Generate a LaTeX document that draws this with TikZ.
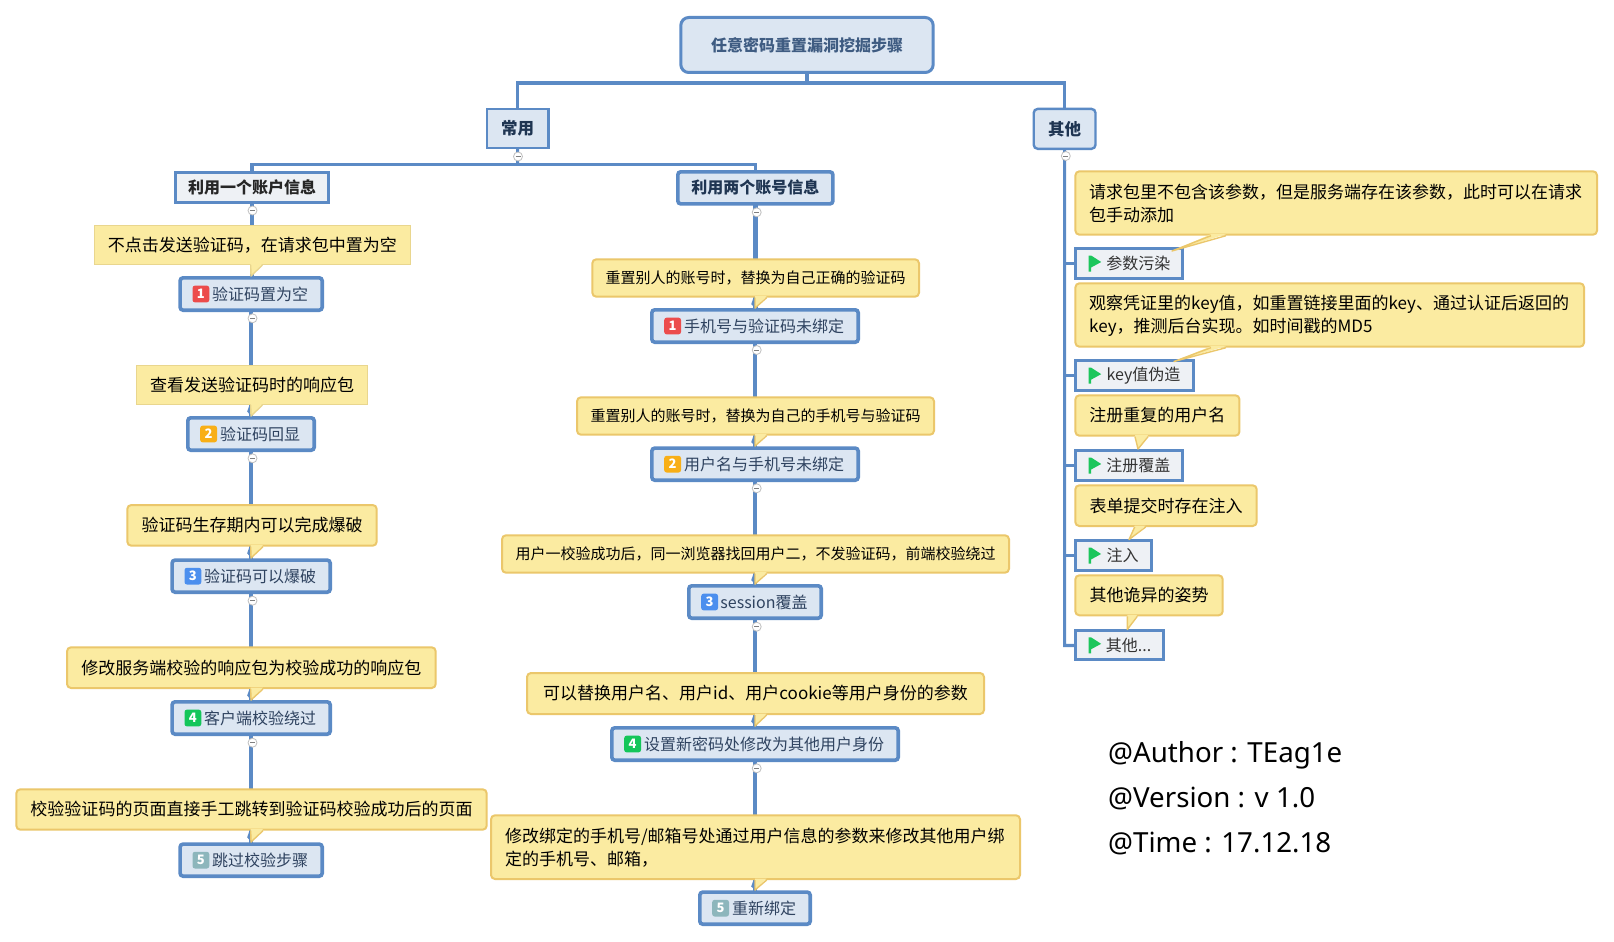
\documentclass[tikz,border=0pt]{standalone}
\usepackage{fontspec}
\setmainfont{Noto Sans CJK SC}
\newfontfamily\footfont{Noto Sans}
\definecolor{linec}{HTML}{5B8AC5}
\definecolor{nodeb}{HTML}{DCE6F2}
\definecolor{nodeg}{HTML}{EEF1F5}
\definecolor{notef}{HTML}{FBEBA1}
\definecolor{noteb}{HTML}{EBC76B}
\definecolor{notet}{HTML}{E9D68E}
\definecolor{inkd}{HTML}{1F3552}
\definecolor{inkm}{HTML}{2F4360}
\definecolor{inkr}{HTML}{3F5C82}
\definecolor{badR}{HTML}{EC4C4C}
\definecolor{badO}{HTML}{F8AF17}
\definecolor{badB}{HTML}{4C8FEE}
\definecolor{badG}{HTML}{14C65A}
\definecolor{badT}{HTML}{8DB6BC}
\definecolor{flagc}{HTML}{1CC65C}
\newcommand\mmBox[8]{%
  \pgfmathsetmacro\mmcx{(#4+#6)/2}\pgfmathsetmacro\mmcy{(#5+#7)/2}%
  \pgfmathsetmacro\mmw{#6-#4-#2}\pgfmathsetmacro\mmh{#7-#5-#2}%
  \node[#1,line width=#2pt,minimum width=\mmw pt,minimum height=\mmh pt] (#3) at (\mmcx,\mmcy) {#8};}
\newcommand\mmLow[1]{\raisebox{-2pt}{#1}}
\newcommand\mmStep[8]{% colour num name x1 y1 x2 y2 text
  \mmBox{stepnode}{3.6}{#3}{#4}{#5}{#6}{#7}{\hspace*{18pt}#8}%
  \node[badge,fill=#1,anchor=west] (#3-b) at ([xshift=12.2pt]#3.west) {#2};}
\newcommand\mmFlagBox[6]{% name x1 y1 x2 y2 text
  \mmBox{flagnode}{3}{#1}{#2}{#3}{#4}{#5}{\hspace*{18pt}#6}%
  \coordinate (#1-f) at ([xshift=12.8pt]#1.west);
  \begin{scope}[shift={(#1-f)}]
    \fill[flagc] (0,-8) -- (2.4,-8) -- (12.5,-1.5) -- (2.4,4) -- (2.4,8) -- (0,8) -- cycle;
  \end{scope}
  \draw[conn] (#1.west) -- (#1.west -| other.south);}
\newcommand\mmTail[6]{% style-colour ybottom xa xb tipx tipy
  \fill[notef] (#3,#2-1.5) -- (#5,#6) -- (#4,#2-1.5) -- cycle;
  \draw[#1,line width=1.4pt,line join=round] (#3,#2) -- (#5,#6) -- (#4,#2);}
\newcommand\mmDart[3]{% tipx ybottom tipy
  \fill[linec] (#1-1.5,#2) -- (#1-3.8,#2+6.5) -- (#1,#3) -- (#1+1,#2) -- cycle;}
\newcommand\mmStem[2]{\draw[stem] (#1.south) -- (#1.south |- #2.north);}
\tikzset{
  conn/.style={draw=linec,line width=3.2pt},
  stem/.style={draw=linec,line width=4.4pt},
  rootnode/.style={draw=linec,fill=nodeb,rounded corners=8pt,inner sep=0pt,outer sep=0pt,text=inkr,font=\fontsize{16}{20}\selectfont\bfseries},
  topnode/.style={draw=linec,fill=nodeb,inner sep=0pt,outer sep=0pt,text=inkd,font=\fontsize{16.5}{20}\selectfont\bfseries},
  subgrey/.style={draw=linec,fill=nodeg,inner sep=0pt,outer sep=0pt,text=black!85,font=\fontsize{16}{20}\selectfont\bfseries},
  subblue/.style={draw=linec,fill=nodeb,rounded corners=3pt,inner sep=0pt,outer sep=0pt,text=inkd,font=\fontsize{16}{20}\selectfont\bfseries},
  stepnode/.style={draw=linec,fill=nodeb,rounded corners=3pt,inner sep=0pt,outer sep=0pt,text=inkm,font=\fontsize{16}{20}\selectfont},
  flagnode/.style={draw=linec,fill=nodeg,inner sep=0pt,outer sep=0pt,text=black!80,font=\fontsize{16}{20}\selectfont},
  badge/.style={rounded corners=2.5pt,minimum width=16.8pt,minimum height=16.8pt,inner sep=0pt,text=white,font=\fontsize{13}{13}\selectfont\bfseries},
  notes/.style={draw=notet,fill=notef,inner sep=0pt,outer sep=0pt,text=black,font=\fontsize{17}{23}\selectfont},
  noter/.style={draw=noteb,fill=notef,rounded corners=4pt,inner sep=0pt,outer sep=0pt,text=black,font=\fontsize{17}{23}\selectfont},
  noters/.style={noter,font=\fontsize{15}{23}\selectfont},
  notel/.style={noter,align=left},
  collapse/.style={circle,draw=black!25,fill=white,line width=0.8pt,minimum size=9pt,inner sep=0pt,
    path picture={\draw[black!50,line width=0.8pt] ([xshift=-2.5pt]path picture bounding box.center) -- ([xshift=2.5pt]path picture bounding box.center);}},
  footer/.style={anchor=base west,inner sep=0pt,text=black,font=\footfont\fontsize{27.7}{30}\selectfont},
}
\begin{document}
\begin{tikzpicture}[x=1pt,y=-1pt]
\useasboundingbox[fill=white] (0,0) rectangle (1614,942);
% main frame
\mmBox{rootnode}{3}{root}{679.3}{16}{934.7}{74}{任意密码重置漏洞挖掘步骤}
\mmBox{topnode}{2.4}{common}{485.7}{107.7}{549.5}{149.3}{\mmLow{常用}}
\mmBox{topnode,rounded corners=4pt}{2.4}{other}{1032.5}{107.7}{1096.7}{150}{\mmLow{其他}}
\mmBox{subgrey}{3.2}{acc1}{174}{171}{330}{203.7}{利用一个账户信息}
\mmBox{subblue}{3.6}{acc2}{676}{170}{834.7}{205.7}{利用两个账号信息}
\coordinate (bus1) at (807,83);
\coordinate (bus2) at (517.6,164.5);
\draw[conn] (root.south) -- (bus1);
\draw[conn] (common.north) |- (bus1) -| (other.north);
\draw[conn] (common.south) -- (bus2);
\draw[conn] (acc1.north) |- (bus2) -| (acc2.north);
\draw[conn] (other.south) -- (1064.6,645.5) -- (1074.3,645.5);
% left column steps
\mmStep{badR}{1}{l1}{178.3}{276}{324}{312}{验证码置为空}
\mmStep{badO}{2}{l2}{186}{416}{316}{452}{验证码回显}
\mmStep{badB}{3}{l3}{170.3}{558.3}{332}{594}{验证码可以爆破}
\mmStep{badG}{4}{l4}{170.3}{700}{332}{736}{客户端校验绕过}
\mmStep{badT}{5}{l5}{178.3}{842.3}{324}{878}{跳过校验步骤}
\mmStem{acc1}{l1}\mmStem{l1}{l2}\mmStem{l2}{l3}\mmStem{l3}{l4}\mmStem{l4}{l5}
% middle column steps
\mmStep{badR}{1}{m1}{650}{308}{860}{344}{手机号与验证码未绑定}
\mmStep{badO}{2}{m2}{650}{446.3}{860}{482}{用户名与手机号未绑定}
\mmStep{badB}{3}{m3}{687}{584}{823}{620}{session覆盖}
\mmStep{badG}{4}{m4}{610}{726}{900}{762}{设置新密码处修改为其他用户身份}
\mmStep{badT}{5}{m5}{698}{890.3}{812}{926}{重新绑定}
\mmStem{acc2}{m1}\mmStem{m1}{m2}\mmStem{m2}{m3}\mmStem{m3}{m4}\mmStem{m4}{m5}
% right column
\mmFlagBox{r1}{1074.4}{247.3}{1184.4}{279.7}{参数污染}
\mmFlagBox{r2}{1074.4}{359.3}{1194.6}{392}{key值伪造}
\mmFlagBox{r3}{1074.4}{449.3}{1184.4}{481.7}{注册覆盖}
\mmFlagBox{r4}{1074.3}{539.3}{1152.7}{571.7}{注入}
\mmFlagBox{r5}{1074.3}{629.3}{1165}{661.3}{其他...}
% collapse buttons
\node[collapse] (c0) at (518,156.5) {};
\node[collapse] (c1) at (252.5,210.5) {};
\node[collapse] (c2) at (252.5,318.3) {};
\node[collapse] (c3) at (252.5,458.3) {};
\node[collapse] (c4) at (252.5,600.7) {};
\node[collapse] (c5) at (252.5,742.7) {};
\node[collapse] (c6) at (756.7,212.3) {};
\node[collapse] (c7) at (756.7,350) {};
\node[collapse] (c8) at (756.7,488.3) {};
\node[collapse] (c9) at (756.7,626.7) {};
\node[collapse] (c10) at (756.7,768.3) {};
\node[collapse] (c11) at (1065.8,156) {};
% darts where stems meet the steps
\mmDart{251}{405}{416}\mmDart{251}{546.7}{558}\mmDart{251}{689}{700}\mmDart{251}{830.7}{842}
\mmDart{755}{297.7}{308}\mmDart{755}{435.7}{446}\mmDart{755}{573.7}{584}\mmDart{755}{715}{726}\mmDart{755}{880}{890}
% left notes
\mmBox{notes}{1}{ln1}{94}{225}{410.7}{265}{不点击发送验证码，在请求包中置为空}
\mmTail{notet}{265}{250.7}{262.5}{251}{276}
\mmBox{notes}{1}{ln2}{136}{365}{368}{405}{查看发送验证码时的响应包}
\mmTail{notet}{405}{250.7}{262.5}{251}{416}
\mmBox{noter}{2}{ln3}{126.3}{504}{377.7}{546.7}{\mmLow{验证码生存期内可以完成爆破}}
\mmTail{noteb}{546.7}{250.7}{263}{251}{558}
\mmBox{noter}{2}{ln4}{66}{646.3}{436.7}{689}{\mmLow{修改服务端校验的响应包为校验成功的响应包}}
\mmTail{noteb}{689}{250.7}{263}{251}{700}
\mmBox{noter}{2}{ln5}{15.3}{788.3}{487.7}{830.7}{\mmLow{校验验证码的页面直接手工跳转到验证码校验成功后的页面}}
\mmTail{noteb}{830.7}{250.7}{263}{251}{842}
% middle notes
\mmBox{noters}{2}{mn1}{591.3}{258.3}{920}{297.7}{\mmLow{重置别人的账号时，替换为自己正确的验证码}}
\mmTail{noteb}{297.7}{755}{766.7}{755}{308}
\mmBox{noters}{2}{mn2}{576}{396.3}{935}{435.7}{\mmLow{重置别人的账号时，替换为自己的手机号与验证码}}
\mmTail{noteb}{435.7}{755}{766.7}{755}{446}
\mmBox{noters}{2}{mn3}{501}{534.3}{1010}{573.7}{\mmLow{用户一校验成功后，同一浏览器找回用户二，不发验证码，前端校验绕过}}
\mmTail{noteb}{573.7}{755}{766.7}{755}{584}
\mmBox{noter}{2}{mn4}{526}{672}{985}{715}{\mmLow{可以替换用户名、用户id、用户cookie等用户身份的参数}}
\mmTail{noteb}{715}{755}{766.7}{755}{726}
\mmBox{notel,text width=501pt}{2}{mn5}{490}{814.3}{1021}{880}{\rule{0pt}{16pt}修改绑定的手机号/邮箱号处通过用户信息的参数来修改其他用户绑\\定的手机号、邮箱，}
\mmTail{noteb}{880}{755}{766.7}{755}{890}
% right notes
\mmBox{notel,text width=494pt}{2}{rn1}{1074.4}{170.3}{1598}{235.7}{\rule{0pt}{16pt}请求包里不包含该参数，但是服务端存在该参数，此时可以在请求\\包手动添加}
\mmTail{noteb}{235.7}{1211}{1226}{1172}{251}
\mmBox{notel,text width=481pt}{2}{rn2}{1074.4}{282.3}{1585}{347.7}{\rule{0pt}{16pt}观察凭证里的key值，如重置链接里面的key、通过认证后返回的\\key，推测后台实现。如时间戳的MD5}
\mmTail{noteb}{347.7}{1211}{1226}{1174}{361.5}
\mmBox{noter}{2}{rn3}{1074.4}{394.3}{1240.4}{436.7}{\mmLow{注册重复的用户名}}
\mmTail{noteb}{436.7}{1135}{1148}{1138}{449}
\mmBox{noter}{2}{rn4}{1074.3}{484.3}{1257.7}{527}{表单提交时存在注入}
\mmTail{noteb}{527}{1134.7}{1145.7}{1129}{539.5}
\mmBox{noter}{2}{rn5}{1074.3}{574.3}{1223.7}{616.3}{\mmLow{其他诡异的姿势}}
\mmTail{noteb}{616.3}{1127.3}{1137.3}{1127.3}{629.5}
% footer
\node[footer] (f1) at (1108,762) {@Author : TEag1e};
\node[footer] (f2) at (1108,807) {@Version : v 1.0};
\node[footer] (f3) at (1108,852) {@Time : 17.12.18};
\end{tikzpicture}
\end{document}
